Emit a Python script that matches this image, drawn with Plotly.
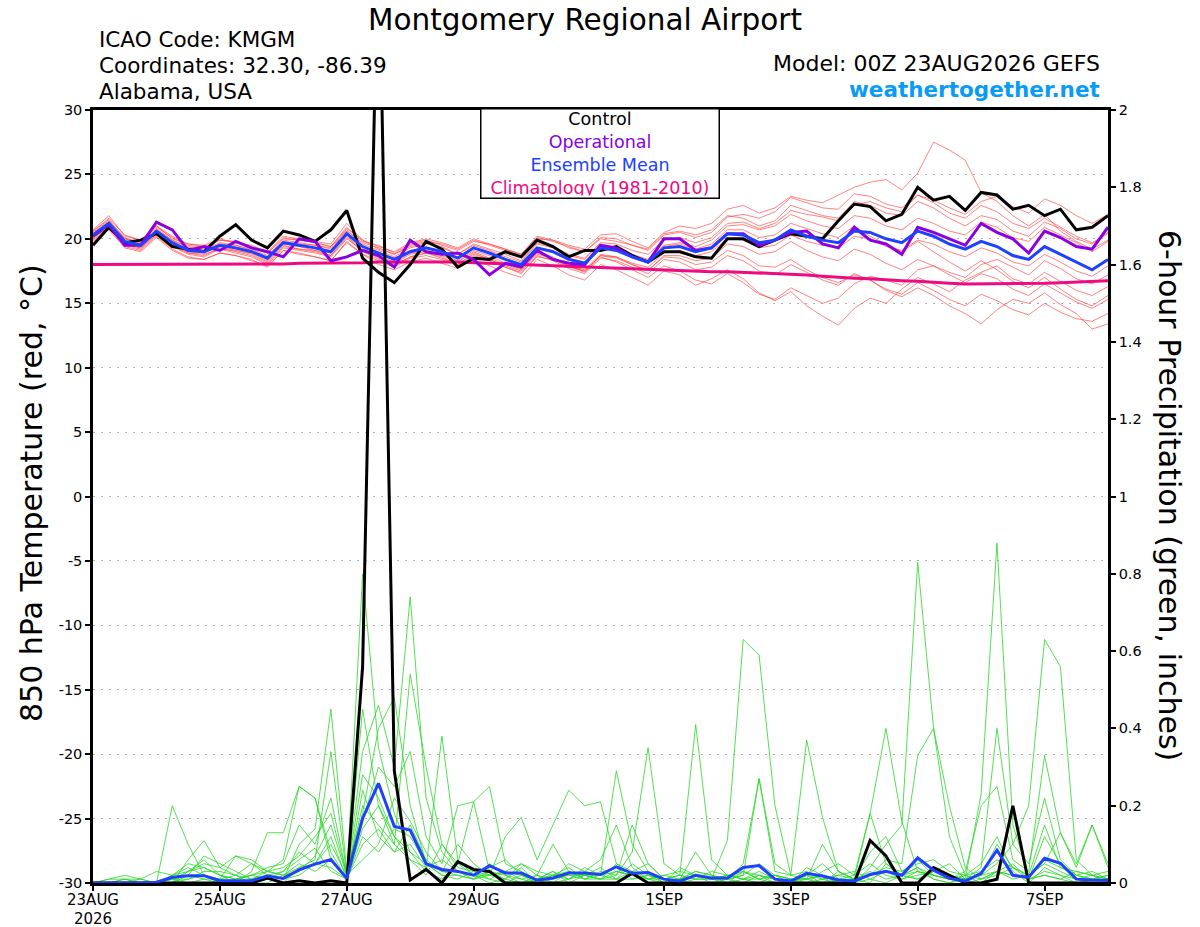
import plotly.graph_objects as go
import pandas as pd

# GEFS run 00Z 23AUG2026, 6-hourly steps out to 384 h
times = pd.date_range('2026-08-23 00:00', periods=65, freq='6h')

x_tick_dates = ['2026-08-23', '2026-08-25', '2026-08-27', '2026-08-29',
                '2026-09-01', '2026-09-03', '2026-09-05', '2026-09-07']
x_tick_text = ['23AUG<br>2026', '25AUG', '27AUG', '29AUG', '1SEP', '3SEP', '5SEP', '7SEP']
temp_ticks = [30, 25, 20, 15, 10, 5, 0, -5, -10, -15, -20, -25, -30]
temp_tick_text = ['30', '25', '20', '15', '10', '5', '0', '-5', '-10', '-15', '-20', '-25', '-30']
precip_ticks = [0, 0.2, 0.4, 0.6, 0.8, 1.0, 1.2, 1.4, 1.6, 1.8, 2.0]
precip_tick_text = ['0', '0.2', '0.4', '0.6', '0.8', '1', '1.2', '1.4', '1.6', '1.8', '2']

# 850 hPa temperature (C)
temp_control = [19.5, 20.9, 19.7, 19.9, 20.4, 19.4, 19.2, 19.0,
                20.2, 21.1, 19.9, 19.3, 20.6, 20.3, 19.8, 20.7,
                22.2, 18.5, 17.4, 16.6, 18.0, 19.8, 19.2, 17.8,
                18.5, 18.4, 19.0, 18.6, 19.9, 19.4, 18.6, 19.1,
                19.1, 19.4, 18.7, 18.2, 19.0, 19.0, 18.6, 18.5,
                20.0, 20.0, 19.4, 19.9, 20.4, 20.2, 20.0, 21.4,
                22.7, 22.5, 21.4, 21.9, 24.0, 23.0, 23.3, 22.2,
                23.6, 23.4, 22.3, 22.6, 21.8, 22.3, 20.7, 20.9,
                21.8]
temp_oper = [20.2, 21.1, 19.5, 19.5, 21.3, 20.7, 19.1, 19.4,
             19.1, 19.8, 19.3, 19.0, 18.6, 20.0, 19.8, 18.3,
             18.6, 19.1, 18.7, 17.8, 19.9, 19.0, 18.8, 18.9,
             18.4, 17.2, 18.1, 17.8, 19.1, 18.4, 18.1, 18.0,
             19.5, 19.3, 18.6, 18.2, 20.0, 20.0, 19.1, 19.3,
             20.4, 20.4, 19.5, 19.9, 20.5, 20.6, 19.6, 19.3,
             20.9, 19.9, 19.6, 18.8, 20.9, 20.5, 20.0, 19.5,
             21.2, 20.5, 20.0, 18.9, 20.6, 20.1, 19.4, 19.2,
             20.9]
temp_mean = [20.3, 21.2, 19.8, 19.5, 20.6, 19.7, 19.1, 19.0,
             19.5, 19.3, 19.0, 18.5, 19.7, 19.5, 19.3, 19.0,
             20.4, 19.4, 18.9, 18.4, 19.0, 19.3, 19.0, 18.5,
             19.3, 18.9, 18.4, 18.0, 19.3, 19.0, 18.4, 18.1,
             19.3, 19.1, 18.6, 18.2, 19.3, 19.4, 19.0, 19.3,
             20.4, 20.3, 19.7, 19.9, 20.7, 20.2, 19.9, 19.7,
             20.6, 20.5, 20.0, 19.7, 20.6, 20.2, 19.6, 19.2,
             19.8, 19.4, 18.7, 18.4, 19.4, 18.8, 18.2, 17.6,
             18.4]
temp_clim = [18.0, 18.0, 18.0, 18.0, 18.0, 18.0, 18.0, 18.0,
             18.0, 18.0, 18.0, 18.05, 18.05, 18.1, 18.1, 18.1,
             18.1, 18.15, 18.2, 18.2, 18.25, 18.25, 18.25, 18.2,
             18.15, 18.1, 18.05, 18.0, 17.95, 17.9, 17.85, 17.8,
             17.75, 17.7, 17.65, 17.6, 17.55, 17.5, 17.5, 17.45,
             17.45, 17.4, 17.4, 17.35, 17.3, 17.2, 17.1, 17.0,
             16.95, 16.9, 16.8, 16.75, 16.7, 16.6, 16.55, 16.5,
             16.5, 16.5, 16.5, 16.55, 16.55, 16.6, 16.65, 16.7,
             16.75]

temp_m01 = [20.6, 21.5, 20.0, 19.8, 20.9, 20.1, 19.5, 19.3,
            19.9, 19.8, 19.3, 18.9, 20.1, 19.9, 19.7, 19.4,
            20.9, 19.8, 19.5, 18.9, 19.6, 19.9, 19.5, 19.1,
            19.8, 19.6, 19.2, 18.8, 20.0, 19.9, 19.5, 19.2,
            20.3, 20.4, 19.8, 19.3, 20.5, 21.0, 20.8, 21.2,
            22.3, 22.6, 22.0, 22.4, 23.3, 23.0, 22.8, 23.4,
            24.0, 24.4, 24.6, 23.8, 25.1, 27.5, 26.9, 26.1,
            23.6, 22.9, 21.8, 21.0, 21.9, 20.6, 19.8, 19.2,
            19.9]
temp_m02 = [19.9, 20.8, 19.4, 19.1, 20.2, 19.2, 18.6, 18.4,
            18.9, 18.7, 18.3, 17.9, 19.1, 18.8, 18.6, 18.3,
            19.8, 18.8, 18.0, 17.6, 18.2, 18.5, 18.1, 17.7,
            18.4, 17.9, 17.4, 17.0, 18.4, 17.9, 17.2, 16.8,
            18.0, 17.6, 17.0, 16.4, 17.5, 17.2, 16.4, 16.9,
            17.6, 16.9, 15.8, 15.2, 15.9, 14.8, 14.0, 13.3,
            14.6, 15.4, 15.0, 16.1, 17.0, 16.5, 15.9, 16.8,
            17.4, 17.9, 16.9, 16.5, 17.4, 16.7, 16.0, 15.6,
            16.3]
temp_m03 = [20.1, 21.0, 19.6, 19.3, 20.4, 19.5, 18.9, 18.8,
            19.2, 19.1, 18.8, 18.2, 19.5, 19.2, 19.1, 18.7,
            20.2, 19.1, 18.5, 18.1, 18.8, 19.0, 18.7, 18.2,
            19.0, 18.5, 18.0, 17.6, 18.9, 18.5, 17.9, 17.6,
            18.8, 18.6, 18.0, 17.6, 18.6, 18.5, 18.0, 18.2,
            19.1, 18.7, 17.9, 17.8, 18.4, 17.6, 17.0, 16.6,
            17.2, 16.8, 16.0, 15.5, 16.2, 15.6, 14.8, 14.2,
            13.4, 14.5, 15.3, 15.0, 15.8, 14.9, 14.2, 13.0,
            13.4]
temp_m04 = [20.7, 21.8, 20.2, 19.9, 21.0, 20.2, 19.6, 19.5,
            20.0, 19.7, 19.5, 19.0, 20.2, 20.0, 19.8, 19.6,
            21.2, 19.9, 19.2, 18.8, 19.5, 19.8, 19.6, 19.2,
            19.9, 19.5, 19.1, 18.7, 20.1, 19.8, 19.4, 19.0,
            20.0, 19.8, 19.5, 19.2, 20.4, 20.6, 20.3, 20.7,
            21.8, 21.6, 21.0, 21.4, 22.6, 22.2, 21.8, 21.6,
            22.9, 22.6, 22.0, 21.8, 22.9, 22.4, 21.6, 21.0,
            21.8, 21.5, 20.6, 20.2, 21.3, 20.8, 20.0, 19.6,
            20.5]
temp_m05 = [20.0, 20.9, 19.5, 19.2, 20.3, 19.4, 18.8, 18.6,
            19.2, 18.9, 18.6, 18.0, 19.3, 19.1, 18.9, 18.6,
            20.0, 19.1, 18.6, 18.0, 18.6, 18.9, 18.6, 18.0,
            18.9, 18.4, 17.9, 17.5, 18.8, 18.5, 17.9, 17.5,
            18.7, 18.5, 18.0, 17.5, 18.7, 18.7, 18.3, 18.5,
            19.6, 19.4, 18.8, 19.0, 19.8, 19.1, 18.6, 18.3,
            19.2, 18.8, 18.1, 17.6, 18.4, 17.9, 17.2, 16.6,
            17.3, 16.9, 16.1, 15.6, 16.5, 15.8, 15.1, 14.6,
            15.3]
temp_m06 = [20.4, 21.3, 20.0, 19.7, 20.8, 19.9, 19.3, 19.2,
            19.7, 19.5, 19.2, 18.7, 19.9, 19.7, 19.5, 19.3,
            20.7, 19.6, 19.1, 18.6, 19.3, 19.6, 19.4, 18.8,
            19.6, 19.2, 18.8, 18.3, 19.7, 19.4, 18.8, 18.5,
            19.7, 19.6, 19.1, 18.8, 19.9, 20.1, 19.7, 20.1,
            21.2, 21.3, 20.8, 21.2, 22.2, 21.9, 21.7, 21.4,
            22.6, 22.9, 22.4, 22.1, 23.4, 23.0, 22.4, 21.9,
            22.9, 23.3, 22.5, 22.0, 23.1, 22.6, 21.8, 21.2,
            21.9]
temp_m07 = [20.2, 21.1, 19.7, 19.4, 20.5, 19.6, 19.0, 18.9,
            19.4, 19.1, 18.9, 18.3, 19.6, 19.4, 19.1, 18.9,
            20.3, 19.2, 18.7, 18.2, 18.9, 19.1, 18.8, 18.3,
            19.1, 18.7, 18.1, 17.7, 19.0, 18.6, 17.9, 17.4,
            18.6, 18.2, 17.6, 17.0, 17.9, 17.5, 16.8, 16.5,
            17.3, 16.6, 15.7, 15.3, 16.2, 15.6, 15.0, 15.4,
            16.5, 17.1, 16.8, 16.4, 17.6, 17.9, 17.4, 17.0,
            18.0, 18.4, 17.8, 17.2, 18.3, 17.7, 16.9, 16.5,
            17.2]
temp_m08 = [20.5, 21.4, 20.1, 19.6, 20.7, 19.9, 19.4, 19.1,
            19.6, 19.5, 19.1, 18.6, 19.8, 19.6, 19.5, 19.2,
            20.6, 19.7, 19.3, 18.8, 19.4, 19.7, 19.3, 18.8,
            19.5, 19.1, 18.6, 18.2, 19.6, 19.3, 18.7, 18.4,
            19.6, 19.3, 18.8, 18.4, 19.5, 19.7, 19.4, 19.9,
            21.0, 21.1, 20.7, 21.0, 21.9, 21.4, 21.0, 20.8,
            21.8, 21.6, 21.0, 20.7, 21.6, 21.2, 20.6, 20.3,
            21.3, 20.9, 20.1, 19.8, 20.9, 20.3, 19.7, 19.0,
            19.8]
temp_m09 = [20.3, 21.1, 19.8, 19.6, 20.6, 19.7, 19.1, 19.0,
            19.5, 19.2, 19.0, 18.4, 19.7, 19.5, 19.3, 19.0,
            20.4, 19.4, 18.9, 18.5, 19.1, 19.3, 19.0, 18.6,
            19.3, 18.9, 18.4, 18.0, 19.3, 19.1, 18.5, 18.2,
            19.4, 19.2, 18.7, 18.3, 19.4, 19.6, 19.2, 19.6,
            20.7, 20.7, 20.1, 20.3, 21.2, 20.8, 20.4, 20.1,
            21.0, 20.2, 19.6, 19.0, 19.8, 19.0, 18.2, 17.5,
            18.3, 17.6, 16.7, 16.2, 17.0, 16.1, 15.3, 14.8,
            15.6]
temp_m10 = [19.8, 20.7, 19.3, 19.0, 20.1, 19.1, 18.5, 18.4,
            18.9, 18.7, 18.4, 17.8, 19.1, 18.9, 18.6, 18.3,
            19.7, 18.8, 18.3, 17.8, 18.5, 18.7, 18.4, 17.9,
            18.7, 18.3, 17.8, 17.4, 18.6, 18.4, 17.8, 17.5,
            18.7, 18.6, 18.1, 17.8, 18.9, 19.1, 18.7, 19.0,
            20.0, 19.9, 19.3, 19.5, 20.3, 19.8, 19.5, 19.3,
            20.2, 20.0, 19.4, 19.1, 19.9, 19.6, 19.0, 18.6,
            19.3, 18.9, 18.2, 17.9, 18.8, 18.2, 17.5, 17.1,
            17.9]
temp_m11 = [20.6, 21.6, 20.3, 19.9, 21.0, 20.0, 19.6, 19.4,
            19.9, 19.7, 19.4, 18.9, 20.0, 19.9, 19.7, 19.4,
            20.8, 19.9, 19.4, 19.0, 19.7, 20.0, 19.7, 19.3,
            20.0, 19.6, 19.2, 18.8, 20.2, 19.9, 19.3, 19.0,
            20.1, 20.0, 19.5, 19.1, 20.3, 20.5, 20.1, 20.5,
            21.7, 21.9, 21.6, 22.1, 23.2, 22.8, 22.4, 22.3,
            23.5, 23.3, 22.7, 22.4, 23.4, 22.8, 22.0, 21.6,
            22.6, 22.1, 21.2, 20.8, 21.6, 20.9, 20.2, 19.7,
            20.4]
temp_m12 = [20.1, 20.9, 19.6, 19.3, 20.4, 19.5, 18.9, 18.7,
            19.3, 19.0, 18.7, 18.1, 19.4, 19.2, 19.0, 18.7,
            20.1, 19.0, 18.4, 17.9, 18.6, 18.9, 18.5, 18.0,
            18.8, 18.4, 17.8, 17.3, 18.7, 18.3, 17.7, 17.3,
            18.5, 18.3, 17.8, 17.3, 18.4, 18.2, 17.6, 17.8,
            18.7, 18.3, 17.5, 17.2, 18.0, 17.4, 16.8, 16.4,
            17.3, 16.8, 16.1, 15.7, 16.6, 16.0, 15.3, 14.8,
            15.7, 15.2, 14.5, 14.1, 15.0, 14.3, 13.8, 13.6,
            14.2]

# 6-hour precipitation (inches)
precip_control = [0, 0, 0, 0, 0, 0, 0, 0,
                  0, 0, 0, 0.013, 0, 0.006, 0, 0.006,
                  0, 0.56, 2.5, 0.29, 0.008, 0.035, 0, 0.055,
                  0.035, 0.03, 0, 0, 0, 0, 0, 0,
                  0, 0, 0.025, 0, 0, 0, 0, 0,
                  0, 0, 0, 0, 0, 0, 0, 0,
                  0, 0.11, 0.07, 0, 0, 0.04, 0.02, 0,
                  0, 0.01, 0.20, 0, 0, 0, 0, 0,
                  0]
precip_mean = [0, 0, 0, 0, 0.002, 0.015, 0.019, 0.019,
               0.006, 0.006, 0.006, 0.018, 0.012, 0.034, 0.049, 0.061,
               0.012, 0.167, 0.258, 0.146, 0.137, 0.05, 0.035, 0.03,
               0.02, 0.045, 0.026, 0.026, 0.007, 0.013, 0.026, 0.026,
               0.022, 0.042, 0.025, 0.027, 0.01, 0.005, 0.02, 0.013,
               0.013, 0.04, 0.045, 0.01, 0.005, 0.025, 0.018, 0.008,
               0.005, 0.022, 0.03, 0.02, 0.065, 0.033, 0.012, 0.005,
               0.025, 0.085, 0.02, 0.015, 0.064, 0.051, 0.01, 0.008,
               0.007]

precip_m01 = [0, 0, 0, 0, 0, 0.20, 0.10, 0.02,
              0, 0, 0, 0.01, 0.03, 0.08, 0.05, 0.12,
              0.01, 0.80, 0.35, 0.18, 0.08, 0.03, 0.01, 0.05,
              0.02, 0, 0.01, 0.04, 0, 0, 0.03, 0.02,
              0.01, 0.05, 0.02, 0, 0, 0.01, 0.08, 0.02,
              0, 0.03, 0.01, 0, 0, 0.02, 0.05, 0.01,
              0, 0.04, 0.10, 0.15, 0.83, 0.40, 0.12, 0.02,
              0, 0.03, 0.05, 0.01, 0.02, 0.01, 0, 0,
              0]
precip_m02 = [0, 0.01, 0.02, 0.01, 0, 0, 0.06, 0.11,
              0.04, 0.02, 0, 0, 0.02, 0.03, 0.07, 0.15,
              0.02, 0.34, 0.46, 0.30, 0.74, 0.22, 0.08, 0.03,
              0.01, 0.05, 0.02, 0, 0.01, 0.03, 0, 0.02,
              0.04, 0.01, 0.05, 0.02, 0, 0.04, 0.02, 0.01,
              0.11, 0.63, 0.59, 0.20, 0.02, 0.01, 0, 0.03,
              0.01, 0, 0.05, 0.02, 0.03, 0.01, 0, 0.02,
              0.05, 0.12, 0.03, 0, 0.04, 0.02, 0.01, 0,
              0]
precip_m03 = [0, 0, 0.01, 0, 0, 0.02, 0.04, 0.02,
              0.01, 0.07, 0.05, 0.02, 0.01, 0.10, 0.14, 0.45,
              0.03, 0.18, 0.40, 0.48, 0.20, 0.05, 0.02, 0.01,
              0.03, 0.01, 0, 0.02, 0, 0.01, 0.05, 0.03,
              0.02, 0.29, 0.10, 0.03, 0, 0.01, 0.02, 0,
              0.01, 0, 0.02, 0.01, 0, 0.04, 0.02, 0,
              0, 0.01, 0.03, 0.02, 0.01, 0.03, 0.05, 0.01,
              0.23, 0.88, 0.15, 0.02, 0.05, 0.03, 0.01, 0.02,
              0.01]
precip_m04 = [0, 0, 0, 0, 0, 0.01, 0.03, 0.06,
              0.02, 0, 0.03, 0.13, 0.13, 0.25, 0.22, 0.06,
              0.01, 0.45, 0.20, 0.10, 0.54, 0.30, 0.10, 0.05,
              0.21, 0.03, 0.01, 0.05, 0.02, 0, 0.01, 0.04,
              0.02, 0.01, 0.03, 0.05, 0.01, 0, 0.01, 0.03,
              0.02, 0.01, 0, 0.02, 0.01, 0, 0.01, 0.02,
              0.03, 0.01, 0, 0.02, 0.04, 0.01, 0, 0.01,
              0.02, 0.05, 0.10, 0.20, 0.63, 0.56, 0.06, 0.02,
              0.03]
precip_m05 = [0, 0, 0, 0.01, 0.03, 0.02, 0.05, 0.04,
              0.02, 0.01, 0.02, 0.04, 0.05, 0.15, 0.10, 0.22,
              0.02, 0.28, 0.22, 0.12, 0.06, 0.04, 0.38, 0.06,
              0.02, 0.01, 0.03, 0.01, 0, 0.02, 0.02, 0.01,
              0.03, 0.02, 0.08, 0.35, 0.05, 0.02, 0.41, 0.06,
              0.02, 0.01, 0.03, 0.01, 0, 0.02, 0.01, 0,
              0.01, 0.18, 0.40, 0.16, 0.03, 0.02, 0.01, 0,
              0.01, 0.02, 0.04, 0.01, 0.02, 0.01, 0.03, 0.02,
              0]
precip_m06 = [0, 0, 0, 0, 0, 0, 0.02, 0.01,
              0, 0.01, 0.02, 0.01, 0, 0.04, 0.06, 0.34,
              0.02, 0.16, 0.30, 0.25, 0.34, 0.12, 0.05, 0.20,
              0.21, 0.25, 0.05, 0.03, 0.01, 0.02, 0.04, 0.01,
              0.02, 0.04, 0.01, 0.02, 0.01, 0, 0.02, 0.01,
              0.01, 0.05, 0.27, 0.03, 0.02, 0.37, 0.17, 0.03,
              0.01, 0.02, 0.06, 0.05, 0.33, 0.40, 0.20, 0.04,
              0.01, 0.03, 0.02, 0.01, 0.03, 0.02, 0, 0.01,
              0.02]
precip_m07 = [0, 0, 0, 0, 0, 0.01, 0.02, 0.07,
              0.05, 0.03, 0.01, 0.02, 0.03, 0.06, 0.09, 0.03,
              0.01, 0.24, 0.12, 0.08, 0.15, 0.06, 0.03, 0.02,
              0.01, 0.02, 0.12, 0.17, 0.06, 0.15, 0.24, 0.20,
              0.21, 0.05, 0.03, 0.01, 0.02, 0.03, 0.02, 0.01,
              0, 0.01, 0.02, 0, 0.01, 0.02, 0, 0.01,
              0.02, 0.05, 0.02, 0.01, 0.03, 0.02, 0.01, 0.03,
              0.20, 0.25, 0.06, 0.03, 0.33, 0.13, 0.04, 0.15,
              0.05]
precip_m08 = [0, 0, 0, 0, 0, 0.01, 0, 0.01,
              0.01, 0, 0.01, 0.02, 0.01, 0.02, 0.05, 0.10,
              0.02, 0.20, 0.15, 0.10, 0.06, 0.02, 0.10, 0.04,
              0.03, 0.02, 0.01, 0, 0.02, 0.10, 0.03, 0.01,
              0.01, 0.02, 0.15, 0.05, 0.01, 0.02, 0.01, 0.01,
              0.02, 0.03, 0.01, 0.02, 0, 0, 0.03, 0.05,
              0.02, 0.18, 0.05, 0.02, 0.01, 0.03, 0.02, 0.01,
              0.04, 0.40, 0.10, 0.05, 0.22, 0.06, 0.02, 0.01,
              0.02]
precip_m09 = [0, 0, 0.01, 0.01, 0, 0, 0.01, 0.03,
              0.03, 0.02, 0.05, 0.03, 0.06, 0.25, 0.22, 0.08,
              0.01, 0.12, 0.08, 0.14, 0.12, 0.05, 0.02, 0.02,
              0.01, 0.03, 0.02, 0.01, 0.02, 0.01, 0.02, 0.02,
              0.01, 0.01, 0.01, 0.02, 0.01, 0.01, 0.03, 0.02,
              0.01, 0.02, 0.05, 0.02, 0.01, 0.01, 0.10, 0.03,
              0.01, 0.08, 0.12, 0.03, 0.06, 0.02, 0.01, 0.01,
              0.02, 0.03, 0.01, 0.02, 0.15, 0.04, 0.02, 0.01,
              0.01]
precip_m10 = [0, 0, 0, 0, 0, 0, 0.03, 0.05,
              0.04, 0.07, 0.06, 0.03, 0.02, 0.05, 0.03, 0.06,
              0.01, 0.10, 0.14, 0.08, 0.10, 0.04, 0.06, 0.03,
              0.02, 0.04, 0.06, 0.02, 0.01, 0.03, 0.01, 0.02,
              0.02, 0.03, 0.02, 0.01, 0, 0.01, 0.02, 0.01,
              0.01, 0.03, 0.02, 0.01, 0, 0.01, 0.02, 0.01,
              0, 0.02, 0.04, 0.03, 0.05, 0.06, 0.03, 0.02,
              0.03, 0.06, 0.04, 0.02, 0.05, 0.13, 0.05, 0.15,
              0.04]
precip_m11 = [0, 0, 0, 0, 0, 0.01, 0.01, 0.02,
              0.01, 0.02, 0.01, 0.03, 0.04, 0.07, 0.12, 0.18,
              0.02, 0.06, 0.10, 0.22, 0.16, 0.08, 0.03, 0.10,
              0.05, 0.02, 0.03, 0.02, 0.01, 0.02, 0.01, 0.03,
              0.06, 0.15, 0.04, 0.01, 0.02, 0.01, 0.03, 0.02,
              0.01, 0.02, 0.27, 0.05, 0.02, 0.03, 0.01, 0.02,
              0.01, 0.03, 0.01, 0.02, 0.04, 0.02, 0.01, 0.02,
              0.01, 0.03, 0.02, 0.01, 0.12, 0.05, 0.02, 0.03,
              0.01]
precip_m12 = [0, 0.01, 0.01, 0, 0, 0.02, 0.03, 0.04,
              0.02, 0.01, 0.02, 0.03, 0.02, 0.04, 0.05, 0.04,
              0.01, 0.14, 0.20, 0.12, 0.08, 0.05, 0.03, 0.03,
              0.02, 0.02, 0.03, 0.05, 0.03, 0.02, 0.03, 0.02,
              0.01, 0.03, 0.02, 0.01, 0.01, 0.02, 0.01, 0.01,
              0.02, 0.01, 0.01, 0.02, 0.01, 0.01, 0.02, 0.01,
              0.01, 0.02, 0.03, 0.01, 0.02, 0.03, 0.02, 0.01,
              0.02, 0.10, 0.04, 0.02, 0.06, 0.04, 0.03, 0.02,
              0.01]

temp_members = [temp_m01, temp_m02, temp_m03, temp_m04, temp_m05, temp_m06,
                temp_m07, temp_m08, temp_m09, temp_m10, temp_m11, temp_m12]
precip_members = [precip_m01, precip_m02, precip_m03, precip_m04, precip_m05, precip_m06,
                  precip_m07, precip_m08, precip_m09, precip_m10, precip_m11, precip_m12]

FONT = 'DejaVu Sans'
RED = 'rgba(255,60,60,0.8)'
GREEN = 'rgb(40,215,40)'
BLACK = 'black'
PURPLE = '#8a00e0'
BLUE = '#2040ff'
PINK = '#ee0a80'

fig = go.Figure()

for m in temp_members:
    fig.add_trace(go.Scatter(x=times, y=m, mode='lines',
                             line=dict(color=RED, width=0.8), hoverinfo='skip'))
for m in precip_members:
    fig.add_trace(go.Scatter(x=times, y=m, mode='lines', yaxis='y2',
                             line=dict(color=GREEN, width=0.8), hoverinfo='skip'))

fig.add_trace(go.Scatter(x=times, y=temp_clim, mode='lines', name='Climatology',
                         line=dict(color=PINK, width=3)))
fig.add_trace(go.Scatter(x=times, y=temp_control, mode='lines', name='Control',
                         line=dict(color=BLACK, width=3)))
fig.add_trace(go.Scatter(x=times, y=precip_control, mode='lines', yaxis='y2',
                         line=dict(color=BLACK, width=3)))
fig.add_trace(go.Scatter(x=times, y=temp_oper, mode='lines', name='Operational',
                         line=dict(color=PURPLE, width=3)))
fig.add_trace(go.Scatter(x=times, y=temp_mean, mode='lines', name='Ensemble Mean',
                         line=dict(color=BLUE, width=3)))
fig.add_trace(go.Scatter(x=times, y=precip_mean, mode='lines', yaxis='y2',
                         line=dict(color=BLUE, width=3)))

# plot area in pixels: x 93..1108, y 110..883 (page body margin removed below)
L, R, T, B = 93, 1108, 110, 883
FIG_W, FIG_H = 1200, 927


def px(x):
    return (x - L) / (R - L)


def py(y):
    return (B - y) / (B - T)


def label(text, x, y, size, xanchor='left', color='black', angle=0, bold=False):
    if bold:
        text = '<b>' + text + '</b>'
    return dict(text=text, x=px(x), y=py(y), xref='paper', yref='paper',
                xanchor=xanchor, yanchor='middle', showarrow=False, textangle=angle,
                font=dict(family=FONT, size=size, color=color))


legend_text = ('Control<br>'
               "<span style='color:%s'>Operational</span><br>"
               "<span style='color:%s'>Ensemble Mean</span><br>"
               "<span style='color:%s'>Climatology (1981-2010)</span>") % (PURPLE, BLUE, PINK)

annotations = [
    label('Montgomery Regional Airport', 585, 20, 29.5, xanchor='center'),
    label('ICAO Code: KMGM', 97, 40, 21.5),
    label('Coordinates: 32.30, -86.39', 97, 66, 21.5),
    label('Alabama, USA', 97, 92, 21.5),
    label('Model: 00Z 23AUG2026 GEFS', 1102, 63, 22, xanchor='right'),
    label('weathertogether.net', 1102, 89, 21.5, xanchor='right', color='#0a9cf5', bold=True),
    label('850 hPa Temperature (red, °C)', 31, 493, 30, xanchor='center', angle=-90),
    label('6-hour Precipitation (green, inches)', 1170, 495, 30, xanchor='center', angle=90),
    dict(text=legend_text, x=px(599.5), y=py(108), xref='paper', yref='paper',
         xanchor='center', yanchor='top', showarrow=False, align='center',
         width=233, height=84, borderpad=2, bordercolor='black', borderwidth=1.5,
         bgcolor='white', font=dict(family=FONT, size=17.5, color='black')),
]

fig.update_layout(
    width=FIG_W, height=FIG_H,
    margin=dict(l=L, r=FIG_W - R, t=T, b=FIG_H - B),
    paper_bgcolor='white', plot_bgcolor='white',
    showlegend=False,
    font=dict(family=FONT, color='black'),
    annotations=annotations,
    xaxis=dict(type='date', range=[times[0], times[-1]], automargin=False,
               tickmode='array', tickvals=x_tick_dates, ticktext=x_tick_text,
               ticks='outside', ticklen=5, tickwidth=1.5, tickcolor='black',
               ticklabelstandoff=-4,
               showline=True, linecolor='black', linewidth=2.5, mirror=True,
               showgrid=False, zeroline=False, tickfont=dict(size=15)),
    yaxis=dict(range=[-30, 30], automargin=False,
               tickmode='array', tickvals=temp_ticks, ticktext=temp_tick_text,
               ticks='outside', ticklen=5, tickwidth=1.5, tickcolor='black',
               showline=True, linecolor='black', linewidth=2.5, mirror=True,
               showgrid=True, gridcolor='#b0b0b0', gridwidth=1, griddash='2px,6px',
               zeroline=False, tickfont=dict(size=14.5)),
    yaxis2=dict(range=[0, 2], overlaying='y', side='right', automargin=False,
                tickmode='array', tickvals=precip_ticks, ticktext=precip_tick_text,
                ticks='outside', ticklen=5, tickwidth=1.5, tickcolor='black',
                showline=True, linecolor='black', linewidth=2.5,
                showgrid=False, zeroline=False, tickfont=dict(size=14.5)),
)

# drop the browser's default 8 px body margin so the figure sits at the page corner
fig.write_html('out.html', config={'displayModeBar': False},
               post_script="document.body.style.margin='0px';")
